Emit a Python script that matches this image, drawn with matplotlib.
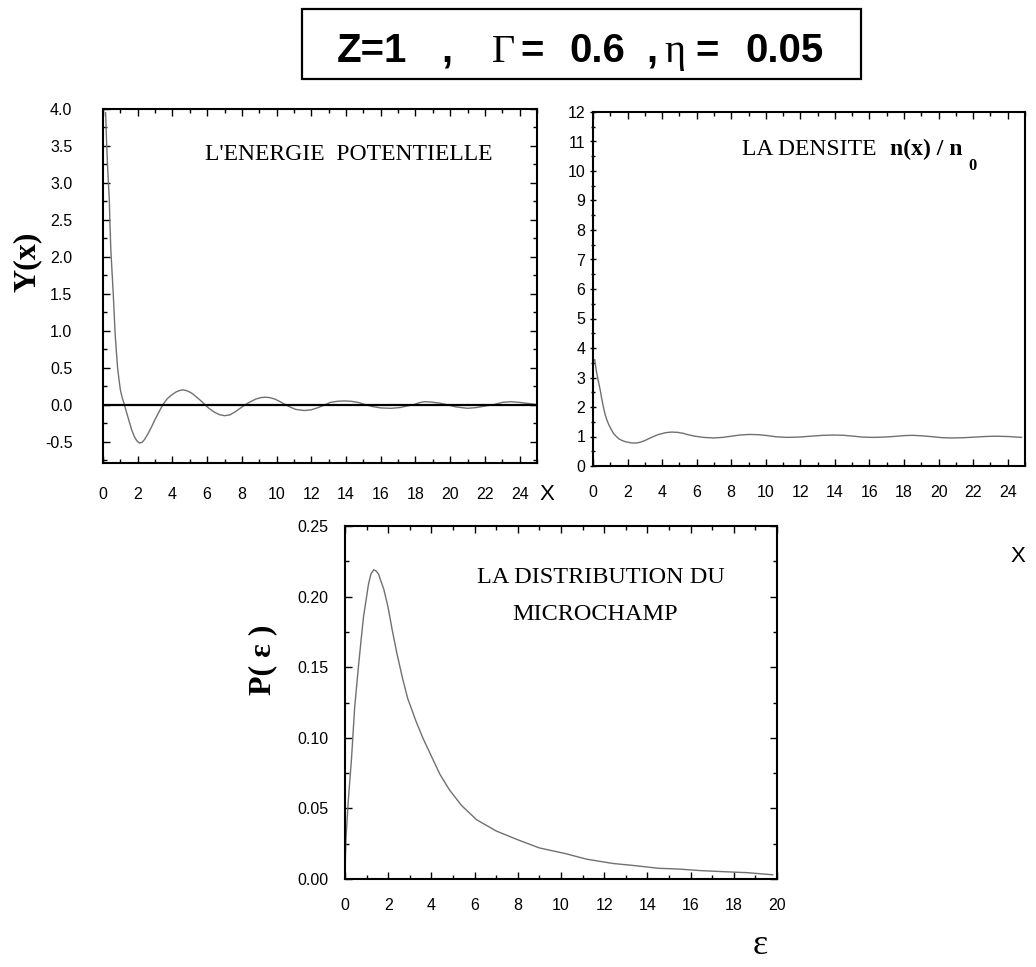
import numpy as np
import matplotlib.pyplot as plt
from matplotlib.patches import Rectangle
from matplotlib.ticker import MultipleLocator

plt.rcParams['axes.unicode_minus'] = False

# values
# potential energy Y(x)
pot_x = [0.15, 0.2, 0.25, 0.3, 0.36, 0.4, 0.45, 0.52, 0.59, 0.65, 0.7, 0.77, 0.84, 0.92,
         1.0, 1.1, 1.23, 1.35, 1.5, 1.65, 1.8, 1.95, 2.1, 2.25, 2.4, 2.6, 2.8, 3.0, 3.2,
         3.45, 3.7, 3.95, 4.2, 4.4, 4.6, 4.8, 5.0, 5.2, 5.4, 5.65, 5.87, 6.1, 6.4, 6.7,
         7.0, 7.3, 7.6, 7.9, 8.2, 8.5, 8.8, 9.1, 9.35, 9.6, 9.9, 10.2, 10.5, 10.8, 11.1,
         11.6, 12.0, 12.4, 12.8, 13.1, 13.5, 13.9, 14.3, 14.7, 15.1, 15.5, 16.0, 16.6,
         17.1, 17.5, 17.9, 18.2, 18.5, 18.9, 19.4, 19.8, 20.3, 21.0, 21.5, 22.0, 22.5,
         23.0, 23.5, 24.0, 24.5, 25.0]
pot_y = [3.95, 3.6, 3.3, 3.05, 2.8, 2.45, 2.1, 1.8, 1.5, 1.2, 0.95, 0.72, 0.5, 0.34,
         0.2, 0.1, 0.0, -0.1, -0.22, -0.34, -0.43, -0.49, -0.52, -0.51, -0.47, -0.39,
         -0.3, -0.2, -0.11, 0.0, 0.08, 0.13, 0.17, 0.19, 0.2, 0.19, 0.17, 0.14, 0.1, 0.05,
         0.0, -0.05, -0.1, -0.135, -0.15, -0.14, -0.1, -0.05, 0.0, 0.04, 0.075, 0.095, 0.1,
         0.095, 0.075, 0.04, 0.0, -0.035, -0.065, -0.08, -0.07, -0.04, 0.0, 0.03, 0.045,
         0.05, 0.045, 0.03, 0.0, -0.025, -0.045, -0.05, -0.04, -0.02, 0.0, 0.025, 0.04,
         0.035, 0.02, 0.0, -0.03, -0.05, -0.04, -0.02, 0.0, 0.03, 0.04, 0.03, 0.015, 0.0]

# density n(x)/n0
dens_x = [0.1, 0.2, 0.3, 0.42, 0.5, 0.6, 0.7, 0.81, 0.9, 1.0, 1.19, 1.35, 1.5, 1.7, 1.9,
          2.25, 2.5, 2.7, 3.0, 3.2, 3.5, 3.8, 4.2, 4.55, 4.9, 5.2, 5.5, 5.9, 6.4, 6.95,
          7.5, 8.0, 8.5, 9.07, 9.6, 10.1, 10.6, 11.2, 11.9, 12.6, 13.3, 13.97, 14.5, 15.1,
          15.6, 16.2, 16.8, 17.4, 18.0, 18.5, 19.1, 19.7, 20.2, 20.8, 21.5, 22.1, 22.7,
          23.3, 24.0, 24.8]
dens_y = [3.6, 3.2, 2.9, 2.57, 2.3, 2.0, 1.75, 1.55, 1.42, 1.3, 1.1, 1.0, 0.92, 0.86, 0.82,
          0.78, 0.78, 0.8, 0.86, 0.92, 1.0, 1.07, 1.13, 1.15, 1.14, 1.11, 1.06, 1.01, 0.97,
          0.95, 0.97, 1.01, 1.05, 1.07, 1.06, 1.03, 0.99, 0.97, 0.98, 1.01, 1.04, 1.05, 1.04,
          1.01, 0.98, 0.97, 0.98, 1.0, 1.03, 1.04, 1.02, 0.99, 0.96, 0.95, 0.96, 0.98, 1.0,
          1.01, 1.0, 0.97]

# microfield distribution P(eps)
eps = [0.0, 0.05, 0.15, 0.3, 0.45, 0.62, 0.75, 0.86, 1.0, 1.09, 1.2, 1.33, 1.45, 1.55,
       1.8, 2.0, 2.19, 2.4, 2.65, 2.9, 3.28, 3.6, 4.06, 4.4, 4.84, 5.4, 6.09, 7.0, 7.96,
       9.0, 10.2, 11.2, 12.4, 13.4, 14.5, 15.5, 16.4, 17.5, 18.6, 19.8]
p_eps = [0.006, 0.03, 0.055, 0.085, 0.122, 0.15, 0.17, 0.186, 0.2, 0.209, 0.216, 0.219,
         0.218, 0.216, 0.205, 0.192, 0.176, 0.16, 0.143, 0.128, 0.112, 0.1, 0.085, 0.074,
         0.063, 0.052, 0.042, 0.034, 0.028, 0.022, 0.018, 0.014, 0.011, 0.0095, 0.0076,
         0.007, 0.006, 0.0052, 0.0045, 0.003]

W, H = 1036, 967
fig = plt.figure(figsize=(W / 100, H / 100), dpi=100)
sans = 'Liberation Sans'
serif = 'Liberation Serif'
curve = '#707070'


def box(left, top, right, bottom):
    return [left / W, 1 - bottom / H, (right - left) / W, (bottom - top) / H]


def style(ax, xpad, ypad, ydir='in'):
    for s in ax.spines.values():
        s.set_linewidth(1.5)
    ax.tick_params(which='both', direction='in', top=True, right=True, width=1,
                   labelsize=11.5)
    ax.tick_params(which='major', length=5)
    ax.tick_params(which='minor', length=3)
    ax.tick_params(axis='x', pad=xpad)
    ax.tick_params(axis='y', pad=ypad)
    if ydir != 'in':
        ax.tick_params(axis='y', which='both', direction=ydir, right=False)
    for lab in ax.get_xticklabels() + ax.get_yticklabels():
        lab.set_family(sans)


def ftext(x, y, s, **kw):
    fig.text(x / W, 1 - y / H, s, **kw)


# title box
fig.add_artist(Rectangle((302 / W, 1 - 79 / H), 559 / W, 70 / H, transform=fig.transFigure,
                         fill=False, lw=1.6, ec='black'))
title_bits = [('Z=1', 337, sans), (',', 441, sans), ('Γ', 492, serif), ('=', 520, sans),
              ('0.6', 569, sans), (',', 646, sans), ('η', 664, serif), ('=', 695, sans),
              ('0.05', 745, sans)]
for s, x, fam in title_bits:
    ftext(x, 62, s, fontsize=29, family=fam,
          fontweight='bold' if fam == sans else 'normal', va='baseline')

# panel 1 : potential energy
ax1 = fig.add_axes(box(103, 109, 537, 463))
ax1.plot(pot_x, pot_y, color=curve, lw=1.0)
ax1.axhline(0, color='black', lw=1.6)
ax1.set_xlim(0, 25)
ax1.set_ylim(-0.79, 4.0)
ax1.set_xticks(np.arange(0, 25, 2))
ax1.set_yticks(np.arange(-0.5, 4.01, 0.5))
ax1.xaxis.set_minor_locator(MultipleLocator(1))
ax1.yaxis.set_minor_locator(MultipleLocator(0.25))
style(ax1, 17, 22)
ftext(205, 160, "L'ENERGIE  POTENTIELLE", fontsize=17, family=serif, va='baseline')
ftext(27, 262, 'Y(x)', fontsize=23, family=serif, fontweight='bold', rotation=90,
      ha='center', va='center')
ftext(547, 494, 'X', fontsize=16, family=sans, ha='center', va='center')

# panel 2 : density
ax2 = fig.add_axes(box(593, 112, 1025, 466))
ax2.plot(dens_x, dens_y, color=curve, lw=1.0)
ax2.set_xlim(0, 25)
ax2.set_ylim(0, 12)
ax2.set_xticks(np.arange(0, 25, 2))
ax2.set_yticks(np.arange(0, 13, 1))
ax2.xaxis.set_minor_locator(MultipleLocator(1))
ax2.yaxis.set_minor_locator(MultipleLocator(0.5))
style(ax2, 14, 3, ydir='inout')
ftext(742, 155, 'LA DENSITE', fontsize=17, family=serif, va='baseline')
ftext(890, 155, 'n(x) / n', fontsize=17, family=serif, fontweight='bold', va='baseline')
ftext(968, 170, '0', fontsize=12, family=serif, fontweight='bold', va='baseline')
ftext(1018, 557, 'X', fontsize=16, family=sans, ha='center', va='center')

# panel 3 : microfield distribution
ax3 = fig.add_axes(box(345, 526, 777, 879))
ax3.plot(eps, p_eps, color=curve, lw=1.0)
ax3.set_xlim(0, 20)
ax3.set_ylim(0, 0.25)
ax3.set_xticks(np.arange(0, 21, 2))
ax3.set_yticks(np.arange(0, 0.251, 0.05))
ax3.set_yticklabels(['0.00', '0.05', '0.10', '0.15', '0.20', '0.25'])
ax3.xaxis.set_minor_locator(MultipleLocator(1))
ax3.yaxis.set_minor_locator(MultipleLocator(0.025))
style(ax3, 14, 12)
ftext(477, 583, 'LA DISTRIBUTION DU', fontsize=17.5, family=serif, va='baseline')
ftext(512, 620, 'MICROCHAMP', fontsize=17.5, family=serif, va='baseline')
ftext(263, 660, 'P( ε )', fontsize=23, family=serif, fontweight='bold', rotation=90,
      ha='center', va='center')
ftext(760, 946, 'ε', fontsize=26, family=serif, ha='center', va='center')

fig.savefig('out.png', dpi=100)
